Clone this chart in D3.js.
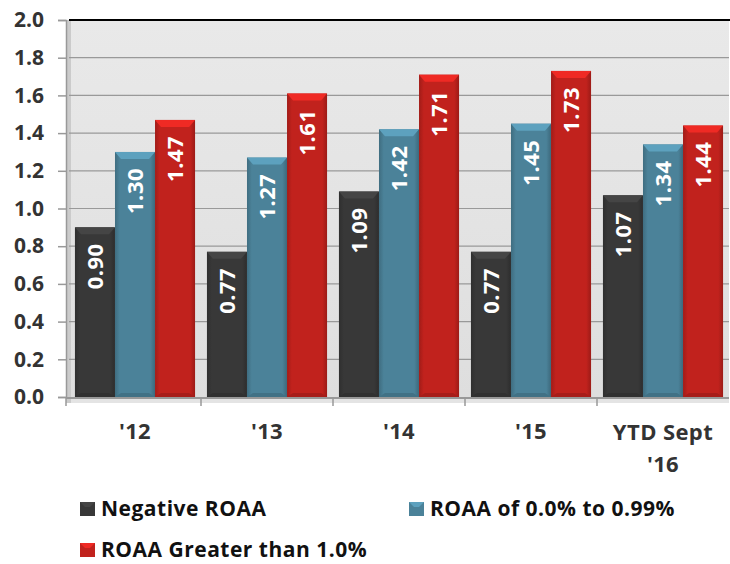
<!DOCTYPE html>
<html>
<head>
<meta charset="utf-8">
<script src="https://cdn.jsdelivr.net/npm/d3@7"></script>
<style>
  body { margin: 0; background: #fff; }
  svg { display: block; font-family: "Open Sans", sans-serif; font-weight: bold; }
</style>
</head>
<body>
<div class="canvas"></div>
<script>
const categories = ["'12", "'13", "'14", "'15", "YTD Sept\n'16"];
const seriesNames = ["Negative ROAA", "ROAA of 0.0% to 0.99%", "ROAA Greater than 1.0%"];
const negative = [0.90, 0.77, 1.09, 0.77, 1.07];
const mid = [1.30, 1.27, 1.42, 1.45, 1.34];
const high = [1.47, 1.61, 1.71, 1.73, 1.44];
const yTicks = [0, 0.2, 0.4, 0.6, 0.8, 1.0, 1.2, 1.4, 1.6, 1.8, 2.0];
const colors = ["#383838", "#4b8299", "#c1221d"];

const W = 730, H = 564;
const pLeft = 69, pRight = 729, pTop = 20, pBottom = 397;

const svg = d3.select(".canvas").append("svg").attr("width", W).attr("height", H);
const defs = svg.append("defs");

// background gradient of the plot area
let bg = defs.append("linearGradient").attr("id", "bg").attr("x1", 0).attr("y1", 0).attr("x2", 0).attr("y2", 1);
bg.append("stop").attr("offset", 0).attr("stop-color", "#e9e9e9");
bg.append("stop").attr("offset", 1).attr("stop-color", "#dedede");

colors.forEach((c, i) => {
  let g = defs.append("linearGradient").attr("id", "bar" + i).attr("x1", 0).attr("x2", 1).attr("y1", 0).attr("y2", 0);
  g.append("stop").attr("offset", 0).attr("stop-color", d3.color(c).darker(0.5));
  g.append("stop").attr("offset", 0.12).attr("stop-color", c);
  g.append("stop").attr("offset", 0.88).attr("stop-color", c);
  g.append("stop").attr("offset", 1).attr("stop-color", d3.color(c).darker(0.6));
});

const yScale = d3.scaleLinear().domain([0, 2]).range([pBottom, pTop]);
const xScale = d3.scaleBand().domain(d3.range(categories.length)).range([pLeft, pRight])
  .paddingInner(0.09).paddingOuter(0.045);
const sub = d3.scaleBand().domain([0, 1, 2]).range([0, xScale.bandwidth()]);
const edge = i => xScale(i) - xScale.step() * 0.045;

// plot background
svg.append("rect").attr("x", pLeft).attr("y", pTop).attr("width", pRight - pLeft).attr("height", pBottom - pTop)
  .attr("fill", "url(#bg)");
// floor
svg.append("rect").attr("x", pLeft).attr("y", pBottom).attr("width", pRight - pLeft).attr("height", 6).attr("fill", "#e4e4e4");
// left wall
svg.append("rect").attr("x", pLeft - 3).attr("y", pTop).attr("width", 5).attr("height", pBottom - pTop + 6).attr("fill", "#cbcbcb");

// gridlines
svg.selectAll(".grid").data(yTicks.filter(d => d > 0 && d < 2)).enter().append("line")
  .attr("x1", pLeft).attr("x2", pRight)
  .attr("y1", d => yScale(d)).attr("y2", d => yScale(d))
  .attr("stroke", "#999").attr("stroke-width", 1.2);
svg.append("line").attr("x1", pLeft).attr("x2", W).attr("y1", pTop).attr("y2", pTop)
  .attr("stroke", "#000").attr("stroke-width", 2);

// y axis
const yAxis = svg.append("g").attr("transform", `translate(${pLeft - 3},0)`)
  .call(d3.axisLeft(yScale).tickValues(yTicks).tickFormat(d3.format(".1f")).tickSize(8).tickPadding(14));
yAxis.select(".domain").attr("stroke", "#999").attr("stroke-width", 1.5);
yAxis.selectAll(".tick line").attr("stroke", "#999").attr("stroke-width", 1.5);
yAxis.selectAll("text").attr("font-size", 21).attr("font-weight", "bold").attr("fill", "#333")
  .attr("font-family", "Open Sans, sans-serif");

// x axis baseline + ticks at category boundaries
svg.append("line").attr("x1", pLeft - 3).attr("x2", pRight).attr("y1", pBottom + 1).attr("y2", pBottom + 1)
  .attr("stroke", "#999").attr("stroke-width", 2);
svg.selectAll(".xt").data(d3.range(categories.length)).enter().append("line")
  .attr("x1", i => edge(i) - (i === 0 ? 3 : 0))
  .attr("x2", i => edge(i) - (i === 0 ? 3 : 0))
  .attr("y1", pBottom).attr("y2", pBottom + 9).attr("stroke", "#999").attr("stroke-width", 1.5);

// bars
const series = [negative, mid, high];
const rows = [];
series.forEach((vals, s) => vals.forEach((v, i) => rows.push({ s, i, v })));

const bars = svg.selectAll(".bar").data(rows).enter().append("g")
  .attr("transform", d => `translate(${xScale(d.i) + sub(d.s)},0)`);
const bw = sub.bandwidth();
bars.append("rect")
  .attr("x", 0).attr("y", d => yScale(d.v))
  .attr("width", bw).attr("height", d => pBottom - yScale(d.v))
  .attr("fill", d => "url(#bar" + d.s + ")");
// bevel on top
bars.append("path")
  .attr("d", d => {
    const y = yScale(d.v);
    return `M0,${y} L${bw},${y} L${bw - 6},${y + 7} L6,${y + 7} Z`;
  })
  .attr("fill", d => d3.color(colors[d.s]).brighter(0.6));
bars.append("path")
  .attr("d", d => `M6,${pBottom - 4} L${bw - 6},${pBottom - 4} L${bw},${pBottom} L0,${pBottom} Z`)
  .attr("fill", d => d3.color(colors[d.s]).darker(0.4));

bars.append("text")
  .attr("transform", d => `translate(${bw / 2 + 8},${yScale(d.v) + 16}) rotate(-90)`)
  .attr("text-anchor", "end")
  .attr("fill", "#fff").attr("font-size", 22).attr("letter-spacing", 0.5)
  .text(d => d.v.toFixed(2));

// category labels
const catLabels = svg.selectAll(".cat").data(categories).enter().append("text")
  .attr("x", (d, i) => xScale(i) + xScale.bandwidth() / 2)
  .attr("y", 439)
  .attr("text-anchor", "middle").attr("font-size", 22).attr("letter-spacing", 0.4).attr("fill", "#333");
catLabels.each(function (d) {
  const lines = d.split("\n");
  const t = d3.select(this);
  if (lines.length > 1) t.attr("y", 440);
  lines.forEach((l, k) => t.append("tspan").attr("x", t.attr("x")).attr("dy", k === 0 ? 0 : 32).text(l));
});

// legend
const legendPos = [[80, 502], [409, 502], [80, 543]];
const leg = svg.selectAll(".leg").data(seriesNames).enter().append("g")
  .attr("transform", (d, i) => `translate(${legendPos[i][0]},${legendPos[i][1]})`);
leg.append("rect").attr("width", 15).attr("height", 14).attr("fill", (d, i) => colors[i]);
leg.append("path").attr("d", "M0,0 L15,0 L10,5 L5,5 Z").attr("fill", (d, i) => d3.color(colors[i]).brighter(0.6));
leg.append("text").attr("x", 21).attr("y", 14).attr("font-size", 21).attr("letter-spacing", 0.5)
  .attr("fill", "#111").text(d => d);
</script>
</body>
</html>
